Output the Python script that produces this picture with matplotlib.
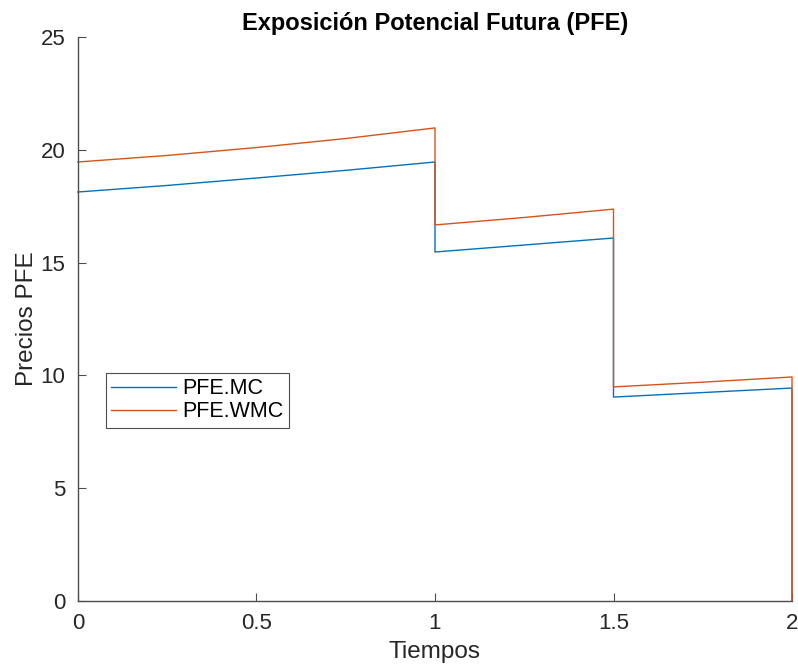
import matplotlib.pyplot as plt

# tiempos y valores (tramos con saltos)
t = [0, 0.25, 0.5, 0.75, 1.0, 1.0, 1.25, 1.5, 1.5, 1.75, 2.0, 2.0]
pfe_mc = [18.13, 18.42, 18.75, 19.09, 19.46, 15.47, 15.78, 16.09, 9.04, 9.24, 9.44, 0.0]
pfe_wmc = [19.46, 19.75, 20.10, 20.50, 20.97, 16.67, 17.00, 17.37, 9.49, 9.70, 9.93, 0.0]
xticks = [0, 0.5, 1, 1.5, 2]
xticklabels = ['0', '0.5', '1', '1.5', '2']
yticks = [0, 5, 10, 15, 20, 25]

plt.rcParams['font.family'] = ['Liberation Sans', 'DejaVu Sans']
gray = '#262626'

fig = plt.figure(figsize=(7.98, 6.68), dpi=100)
ax = fig.add_axes([0.0977, 0.1003, 0.8948, 0.8443])
ax.plot(t, pfe_mc, color='#0072BD', lw=1.0, label='PFE.MC', clip_on=False)
ax.plot(t, pfe_wmc, color='#D95319', lw=1.0, label='PFE.WMC', clip_on=False)

ax.set_xlim(0, 2)
ax.set_ylim(0, 25)
ax.set_xticks(xticks)
ax.set_xticklabels(xticklabels)
ax.set_yticks(yticks)
ax.spines['top'].set_visible(False)
ax.spines['right'].set_visible(False)
for s in ['left', 'bottom']:
    ax.spines[s].set_color('#4d4d4d')
    ax.spines[s].set_linewidth(1.0)
ax.tick_params(direction='in', length=6, color='#4d4d4d', labelcolor=gray,
               labelsize=16, pad=9)

ax.set_xlabel('Tiempos', fontsize=17.5, color=gray, labelpad=5)
ax.set_ylabel('Precios PFE', fontsize=17.5, color=gray, labelpad=2)
ax.set_title('Exposición Potencial Futura (PFE)', fontsize=17, fontweight='bold', pad=5)

leg = ax.legend(loc='lower left', bbox_to_anchor=(0.039, 0.307), fontsize=15.5,
                fancybox=False, framealpha=1, edgecolor='#4d4d4d', handlelength=3.0,
                borderaxespad=0, borderpad=0.25, labelspacing=0.1, handletextpad=0.3)
leg.get_frame().set_linewidth(0.8)

fig.savefig('out.png', dpi=100)
